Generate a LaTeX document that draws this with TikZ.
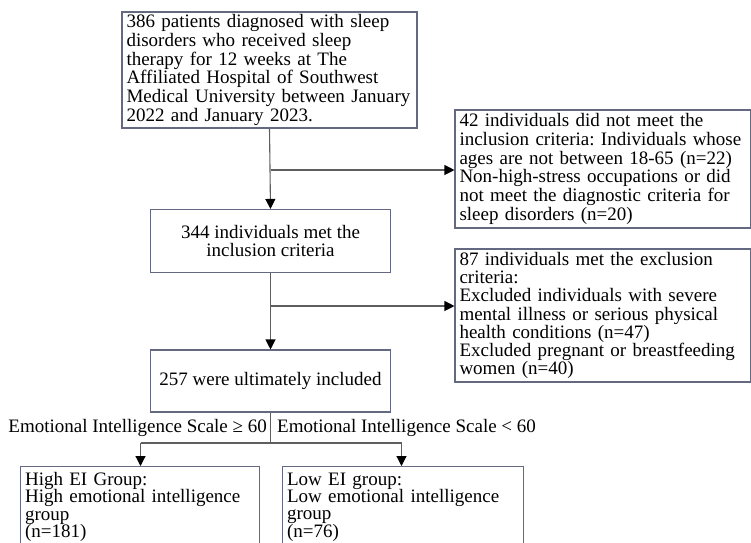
\documentclass[tikz,border=0pt]{standalone}
\usepackage{fontspec}
\setmainfont{Liberation Serif}
\usetikzlibrary{arrows.meta}
\definecolor{boxline}{HTML}{646880}
\definecolor{conline}{HTML}{5E5E5E}
\frenchspacing
\begin{document}
\begin{tikzpicture}[x=1pt,y=-1pt,
  every node/.style={font=\fontsize{19}{18.8}\selectfont},
  box/.style={draw=boxline, line width=1.1pt, rectangle, inner xsep=4.5pt, inner ysep=2pt},
  cbox/.style={box, align=center},
  conn/.style={draw=conline, line width=1.1pt},
  arr/.style={conn, -{Triangle[length=10pt,width=10pt,fill=black,color=black]}},
  lbl/.style={inner sep=0pt}
]
\clip (0,0) rectangle (751,542);
\fill[white] (0,0) rectangle (751,542);
% top box
\node[box, minimum width=295pt, minimum height=116pt, text width=286pt, align=left] (b1) at (269.5,70)
 {386 patients diagnosed with sleep\\disorders who received sleep\\therapy for 12 weeks at The\\Affiliated Hospital of Southwest\\Medical University between January\\2022 and January 2023.};
\node[cbox, minimum width=240pt, minimum height=63pt] (b2) at (270.5,241) {344 individuals met the\\inclusion criteria};
\node[cbox, minimum width=240pt, minimum height=62pt] (b3) at (270.5,381) {257 were ultimately included};
\node[box, minimum width=296pt, minimum height=118pt, text width=292pt, inner xsep=2pt, align=left] (r1) at (603,169)
 {\hspace*{2.5pt}42 individuals did not meet the\\\hspace*{2.5pt}inclusion criteria: Individuals whose\\\hspace*{2.5pt}ages are not between 18-65 (n=22)\\\hspace*{2.5pt}Non-high-stress occupations or did\\\hspace*{2.5pt}not meet the diagnostic criteria for\\\hspace*{2.5pt}sleep disorders (n=20)};
\node[box, minimum width=296pt, minimum height=133pt, text width=287pt, align=left, font=\fontsize{19}{18.2}\selectfont] (r2) at (603,315.5)
 {87 individuals met the exclusion\\criteria:\\Excluded individuals with severe\\mental illness or serious physical\\health conditions (n=47)\\Excluded pregnant or breastfeeding\\women (n=40)};
\node[box, minimum width=239pt, minimum height=81pt, text width=230pt, inner ysep=0pt, align=left, anchor=north west, font=\fontsize{19}{17.3}\selectfont] (g1) at (20,466)
 {High EI Group:\\High emotional intelligence\\group\\(n=181)};
\node[box, minimum width=241pt, minimum height=81pt, text width=232pt, inner ysep=0pt, align=left, anchor=north west, font=\fontsize{19}{17.3}\selectfont] (g2) at (282,466)
 {Low EI group:\\Low emotional intelligence\\group\\(n=76)};
% labels
\node[lbl, anchor=base east] (l1) at (267,432) {Emotional Intelligence Scale ≥ 60};
\node[lbl, anchor=base west] (l2) at (277,432) {Emotional Intelligence Scale < 60};
% connectors
\draw[arr] (b1.south) -- (b2.north);
\coordinate (k1) at (270.5,170);
\draw[arr] (k1) -- (k1 -| r1.west);
\draw[arr] (b2.south) -- (b3.north);
\coordinate (k2) at (270.5,306);
\draw[arr] (k2) -- (k2 -| r2.west);
\coordinate (s) at (270.5,443);
\coordinate (sl) at (140.5,443);
\coordinate (sr) at (401.5,443);
\draw[conn] (b3.south) -- (s);
\draw[conn] (sl) -- (sr);
\draw[arr] (sl) -- (sl |- g1.north);
\draw[arr] (sr) -- (sr |- g2.north);
\end{tikzpicture}
\end{document}
